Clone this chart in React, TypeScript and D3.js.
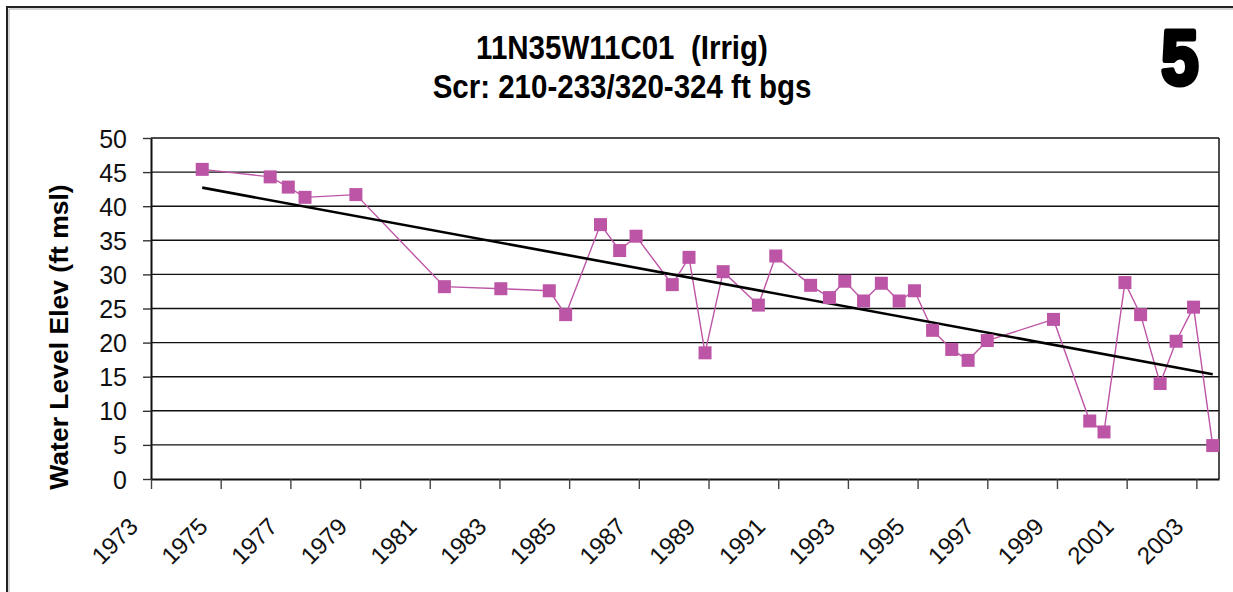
import React, { useEffect, useRef } from "react";
import * as d3 from "d3";

// sample dates as fractional years, water level in ft msl
const sampleYears: number[] = [
  1974.47, 1976.42, 1976.94, 1977.42, 1978.88, 1981.42, 1983.04, 1984.43,
  1984.9, 1985.9, 1986.45, 1986.92, 1987.96, 1988.44, 1988.9, 1989.42,
  1990.43, 1990.93, 1991.93, 1992.47, 1992.91, 1993.45, 1993.96, 1994.47,
  1994.91, 1995.43, 1995.98, 1996.45, 1997.0, 1998.9, 1999.94, 2000.35,
  2000.95, 2001.4, 2001.96, 2002.42, 2002.92, 2003.47,
];
const waterLevels: number[] = [
  45.4, 44.3, 42.8, 41.3, 41.7, 28.2, 27.9, 27.6, 24.1, 37.3, 33.5, 35.6,
  28.5, 32.5, 18.5, 30.4, 25.5, 32.7, 28.4, 26.6, 29.0, 26.1, 28.7, 26.1,
  27.6, 21.8, 19.0, 17.4, 20.3, 23.4, 8.5, 6.9, 28.8, 24.1, 14.0, 20.2,
  25.2, 4.9,
];
const yTicks: number[] = [0, 5, 10, 15, 20, 25, 30, 35, 40, 45, 50];
const xTicks: number[] = [
  1973, 1975, 1977, 1979, 1981, 1983, 1985, 1987, 1989, 1991, 1993, 1995,
  1997, 1999, 2001, 2003,
];
const titleLines: string[] = ["11N35W11C01  (Irrig)", "Scr: 210-233/320-324 ft bgs"];
const yLabel = "Water Level Elev (ft msl)";
const badge = "5";

const App: React.FC = () => {
  const svgRef = useRef<SVGSVGElement | null>(null);

  useEffect(() => {
    const width = 1233;
    const height = 592;
    const plot = { left: 151, right: 1219, top: 138, bottom: 479 };
    const color = "#bd55a6";
    const font = "Liberation Sans, Arial, sans-serif";

    const data = sampleYears.map((yr, i) => ({ yr, v: waterLevels[i] }));

    const x = d3
      .scaleLinear()
      .domain([1973, 2003.65])
      .range([plot.left, plot.right]);
    const y = d3.scaleLinear().domain([0, 50]).range([plot.bottom, plot.top]);

    const svg = d3.select(svgRef.current);
    svg.selectAll("*").remove();
    svg.attr("width", width).attr("height", height);

    svg.append("rect").attr("width", width).attr("height", height).attr("fill", "white");

    // outer frame (runs off the page at right and bottom)
    svg
      .append("path")
      .attr("d", `M7,${height + 5} V7 H${width + 5}`)
      .attr("fill", "none")
      .attr("stroke", "#222")
      .attr("stroke-width", 2);
    svg
      .append("path")
      .attr("d", `M9,${height + 5} V9 H${width + 5}`)
      .attr("fill", "none")
      .attr("stroke", "#aaa")
      .attr("stroke-width", 1);

    // title
    const title = svg
      .append("g")
      .attr("transform", "translate(622,0) scale(1,1.13)")
      .style("font-family", font)
      .style("font-weight", "bold")
      .style("font-size", "29.5px")
      .style("white-space", "pre")
      .attr("text-anchor", "middle");
    title.append("text").attr("xml:space", "preserve").attr("y", 59.5 / 1.13).text(titleLines[0]);
    title.append("text").attr("y", 98 / 1.13).text(titleLines[1]);

    // badge number
    svg
      .append("text")
      .attr("transform", "translate(1180,84) scale(0.86,1)")
      .attr("text-anchor", "middle")
      .style("font-family", font)
      .style("font-weight", "bold")
      .style("font-size", "78px")
      .attr("fill", "black")
      .attr("stroke", "black")
      .attr("stroke-width", 5)
      .attr("stroke-linejoin", "round")
      .text(badge);

    // gridlines
    svg
      .append("g")
      .selectAll("line")
      .data(yTicks.filter((t) => t > 0))
      .join("line")
      .attr("x1", plot.left)
      .attr("x2", plot.right)
      .attr("y1", (d) => y(d))
      .attr("y2", (d) => y(d))
      .attr("stroke", "#111")
      .attr("stroke-width", 1.4);

    // right frame of plot
    svg
      .append("line")
      .attr("x1", plot.right)
      .attr("x2", plot.right)
      .attr("y1", plot.top)
      .attr("y2", plot.bottom)
      .attr("stroke", "#222")
      .attr("stroke-width", 1.6);

    // y axis
    const yAxis = svg
      .append("g")
      .attr("transform", `translate(${plot.left},0)`)
      .call(d3.axisLeft(y).tickValues(yTicks).tickSize(8).tickPadding(16).tickSizeOuter(0))
      .call((g) => g.select(".domain").attr("stroke", "#111").attr("stroke-width", 2));
    yAxis.selectAll(".tick line").attr("stroke", "#333").attr("stroke-width", 1.4);
    yAxis
      .selectAll(".tick text")
      .style("font-family", font)
      .style("font-size", "25px")
      .attr("fill", "#111")
      .attr("dy", "0.36em");

    // x axis
    const xAxis = svg
      .append("g")
      .attr("transform", `translate(0,${plot.bottom})`)
      .call(d3.axisBottom(x).tickValues(xTicks).tickSize(10).tickSizeOuter(0).tickFormat(d3.format("d")))
      .call((g) => g.select(".domain").attr("stroke", "#111").attr("stroke-width", 2));
    xAxis.selectAll(".tick line").attr("stroke", "#444").attr("stroke-width", 1.4);
    xAxis
      .selectAll(".tick text")
      .style("font-family", font)
      .style("font-size", "24px")
      .attr("fill", "#111")
      .attr("text-anchor", "end")
      .attr("y", 0)
      .attr("dy", 0)
      .attr("transform", "translate(-12,49) rotate(-45)");

    // y axis title
    svg
      .append("text")
      .attr("transform", `translate(68,337) rotate(-90)`)
      .attr("text-anchor", "middle")
      .style("font-family", font)
      .style("font-weight", "bold")
      .style("font-size", "26.5px")
      .text(yLabel);

    // data line
    const line = d3
      .line<{ yr: number; v: number }>()
      .x((d) => x(d.yr))
      .y((d) => y(d.v));
    svg
      .append("path")
      .datum(data)
      .attr("fill", "none")
      .attr("stroke", color)
      .attr("stroke-width", 1.4)
      .attr("d", line);

    // linear trend (least squares)
    const mx = d3.mean(data, (d) => d.yr) as number;
    const my = d3.mean(data, (d) => d.v) as number;
    const slope =
      d3.sum(data, (d) => (d.yr - mx) * (d.v - my)) /
      d3.sum(data, (d) => (d.yr - mx) ** 2);
    const x0 = sampleYears[0];
    const x1 = sampleYears[sampleYears.length - 1];
    svg
      .append("line")
      .attr("x1", x(x0))
      .attr("y1", y(my + slope * (x0 - mx)))
      .attr("x2", x(x1))
      .attr("y2", y(my + slope * (x1 - mx)))
      .attr("stroke", "black")
      .attr("stroke-width", 2.6);

    // markers
    svg
      .append("g")
      .selectAll("rect")
      .data(data)
      .join("rect")
      .attr("x", (d) => x(d.yr) - 6.5)
      .attr("y", (d) => y(d.v) - 6.5)
      .attr("width", 13)
      .attr("height", 13)
      .attr("fill", color);
  }, []);

  return (
    <svg
      ref={svgRef}
      style={{ position: "absolute", left: 0, top: 0, display: "block" }}
    />
  );
};

export default App;
